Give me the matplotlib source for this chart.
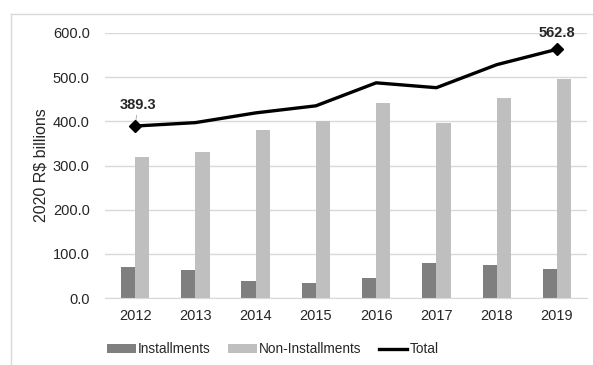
import matplotlib
matplotlib.use("Agg")
import matplotlib.pyplot as plt
import numpy as np
from matplotlib.lines import Line2D

plt.rcParams['font.family'] = ['Liberation Sans', 'DejaVu Sans']

years = ['2012', '2013', '2014', '2015', '2016', '2017', '2018', '2019']
installments = [70, 64, 38, 34, 45, 79, 75, 66]
non_installments = [319, 330, 381, 401, 441, 396, 452, 496]
total = [389.3, 397, 419, 435, 487, 476, 528, 562.8]

fig = plt.figure(figsize=(5.93, 3.65), dpi=100)
ax = fig.add_axes([0.177, 0.183, 0.813, 0.727])

x = np.arange(len(years))
w = 0.235
b1 = ax.bar(x - w/2, installments, w, color='#7f7f7f', label='Installments', zorder=2)
b2 = ax.bar(x + w/2, non_installments, w, color='#bfbfbf', label='Non-Installments', zorder=2)
l1, = ax.plot(x, total, color='black', lw=2.4, label='Total', zorder=3, solid_joinstyle='round')
ax.plot([x[0], x[-1]], [total[0], total[-1]], linestyle='none', marker='D',
        color='black', markersize=6, zorder=4)

ax.set_xlim(-0.5, len(years) - 0.5)
ax.set_ylim(0, 600)
ax.set_yticks(np.arange(0, 601, 100))
ax.set_yticklabels([f"{v:.1f}" for v in np.arange(0, 601, 100)])
ax.set_xticks(x)
ax.set_xticklabels(years)
ax.yaxis.grid(True, color='#d9d9d9', lw=1, zorder=0)
ax.set_axisbelow(True)
for s in ['top', 'right', 'left']:
    ax.spines[s].set_visible(False)
ax.spines['bottom'].set_color('#d9d9d9')
ax.tick_params(axis='both', length=0, labelsize=10.5, colors='#262626')
ax.tick_params(axis='x', pad=8)
ax.tick_params(axis='y', pad=11)
ax.set_ylabel('2020 R$ billions', fontsize=11.5, color='#262626', labelpad=3)

ax.annotate(f"{total[0]:.1f}", xy=(x[0], total[0]), xytext=(x[0] + 0.05, total[0] + 31),
            ha='center', va='bottom', fontsize=10.5, fontweight='bold', color='#262626',
            arrowprops=dict(arrowstyle='-', color='#a6a6a6', lw=0.6, shrinkA=0, shrinkB=3))
ax.annotate(f"{total[-1]:.1f}", xy=(x[-1], total[-1]), xytext=(x[-1], total[-1] + 22),
            ha='center', va='bottom', fontsize=10.5, fontweight='bold', color='#262626')

fig.legend(handles=[b1, b2, l1], loc='lower center', bbox_to_anchor=(0.46, -0.01), ncol=3,
           frameon=False, fontsize=9.8, handlelength=2.1, handleheight=0.6,
           columnspacing=1.3, handletextpad=0.15, labelcolor='#262626')

fig.add_artist(Line2D([11/593, 1.0], [1 - 14/365, 1 - 14/365], transform=fig.transFigure,
                      color='#d9d9d9', lw=1))
fig.add_artist(Line2D([11/593, 11/593], [0, 1 - 14/365], transform=fig.transFigure,
                      color='#d9d9d9', lw=1))

fig.savefig('out.png', dpi=100)
